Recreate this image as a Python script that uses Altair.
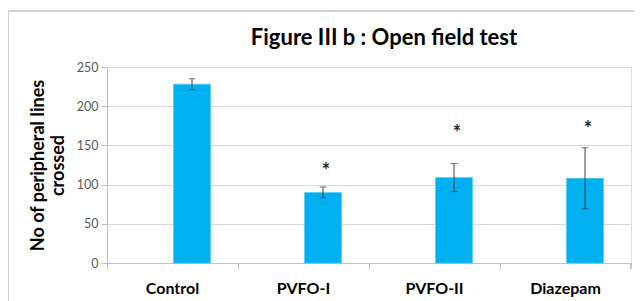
import altair as alt
import pandas as pd

groups = ["Control", "PVFO-I", "PVFO-II", "Diazepam"]
means = [228, 90, 109, 108]
errors = [7, 7, 18, 39]
star_y = [None, 123, 171, 176]
star_text = ["", "*", "*", "*"]
y_ticks = [0, 50, 100, 150, 200, 250]
title_text = ["Figure III b : Open field test"]

df = pd.DataFrame({
    "group": groups,
    "mean": means,
    "lo": [m - e for m, e in zip(means, errors)],
    "hi": [m + e for m, e in zip(means, errors)],
    "star_y": star_y,
    "star": star_text,
})
tdf = pd.DataFrame({"t": title_text})

font = "Lato"
OFF = 19.5
xenc = alt.X("group:N", sort=groups, title=None,
             scale=alt.Scale(paddingInner=0, paddingOuter=0),
             axis=alt.Axis(labelAngle=0, labelPadding=11, bandPosition=0,
                           grid=False, tickSize=6))
yscale = alt.Scale(domain=[0, 250], nice=False)
yaxis = alt.Axis(values=y_ticks, labelOverlap=False, tickSize=6, labelPadding=3,
                 titlePadding=9)

bars = alt.Chart(df).mark_bar(size=37, color="#00b0f0", stroke="#4fc8f5",
                              strokeWidth=0.6, xOffset=OFF).encode(
    x=xenc,
    y=alt.Y("mean:Q", scale=yscale, title=["No of peripheral lines", "crossed"],
            axis=yaxis),
)

xs = alt.X("group:N", sort=groups)
rules = alt.Chart(df).mark_rule(color="#404040", strokeWidth=1,
                                xOffset=OFF).encode(
    x=xs, y=alt.Y("lo:Q", axis=yaxis), y2="hi:Q")
caps_hi = alt.Chart(df).mark_tick(color="#404040", thickness=1, size=7,
                                  orient="horizontal", xOffset=OFF).encode(
    x=xs, y=alt.Y("hi:Q", axis=yaxis))
caps_lo = alt.Chart(df).mark_tick(color="#404040", thickness=1, size=7,
                                  orient="horizontal", xOffset=OFF).encode(
    x=xs, y=alt.Y("lo:Q", axis=yaxis))
stars = alt.Chart(df).transform_filter("datum.star_y != null").mark_text(
    font=font, fontSize=20, fontWeight="bold", color="#262626", baseline="middle",
    dy=5, xOffset=OFF + 3).encode(
    x=xs, y=alt.Y("star_y:Q", axis=yaxis), text="star:N")

title = alt.Chart(tdf).mark_text(font=font, fontSize=22, fontWeight="bold",
                                 color="#000000", align="center",
                                 baseline="alphabetic").encode(
    x=alt.value(277), y=alt.value(-22), text="t:N")

end_tick = alt.Chart(df).mark_rule(color="#bfbfbf").encode(
    x=alt.value(524), y=alt.value(196), y2=alt.value(202))
frame_left = alt.Chart(df).mark_rule(color="#d0d0d0").encode(
    x=alt.value(-99), y=alt.value(-56), y2=alt.value(240))
frame_top = alt.Chart(df).mark_rule(color="#d0d0d0").encode(
    x=alt.value(-99), x2=alt.value(540), y=alt.value(-56))

chart = alt.layer(bars, rules, caps_hi, caps_lo, stars, title, end_tick,
                  frame_left, frame_top).properties(
    width=524, height=196,
    autosize=alt.AutoSizeParams(type="none"),
    padding={"left": 99, "top": 59, "right": 3, "bottom": 40},
).configure_view(stroke=None).configure(background="white").configure_axisX(
    labelFont=font, labelFontSize=16, labelFontWeight="bold",
    labelColor="#000000", domainColor="#bfbfbf", tickColor="#bfbfbf",
).configure_axisY(
    labelFont=font, labelFontSize=12.5, labelColor="#595959", labelOverlap=False,
    titleFont=font, titleFontSize=18, titleFontWeight="bold",
    titleColor="#000000", titleLineHeight=20,
    gridColor="#d9d9d9", domainColor="#bfbfbf", tickColor="#bfbfbf",
)

chart.save("out.html", embed_options={"renderer": "svg", "actions": False})
